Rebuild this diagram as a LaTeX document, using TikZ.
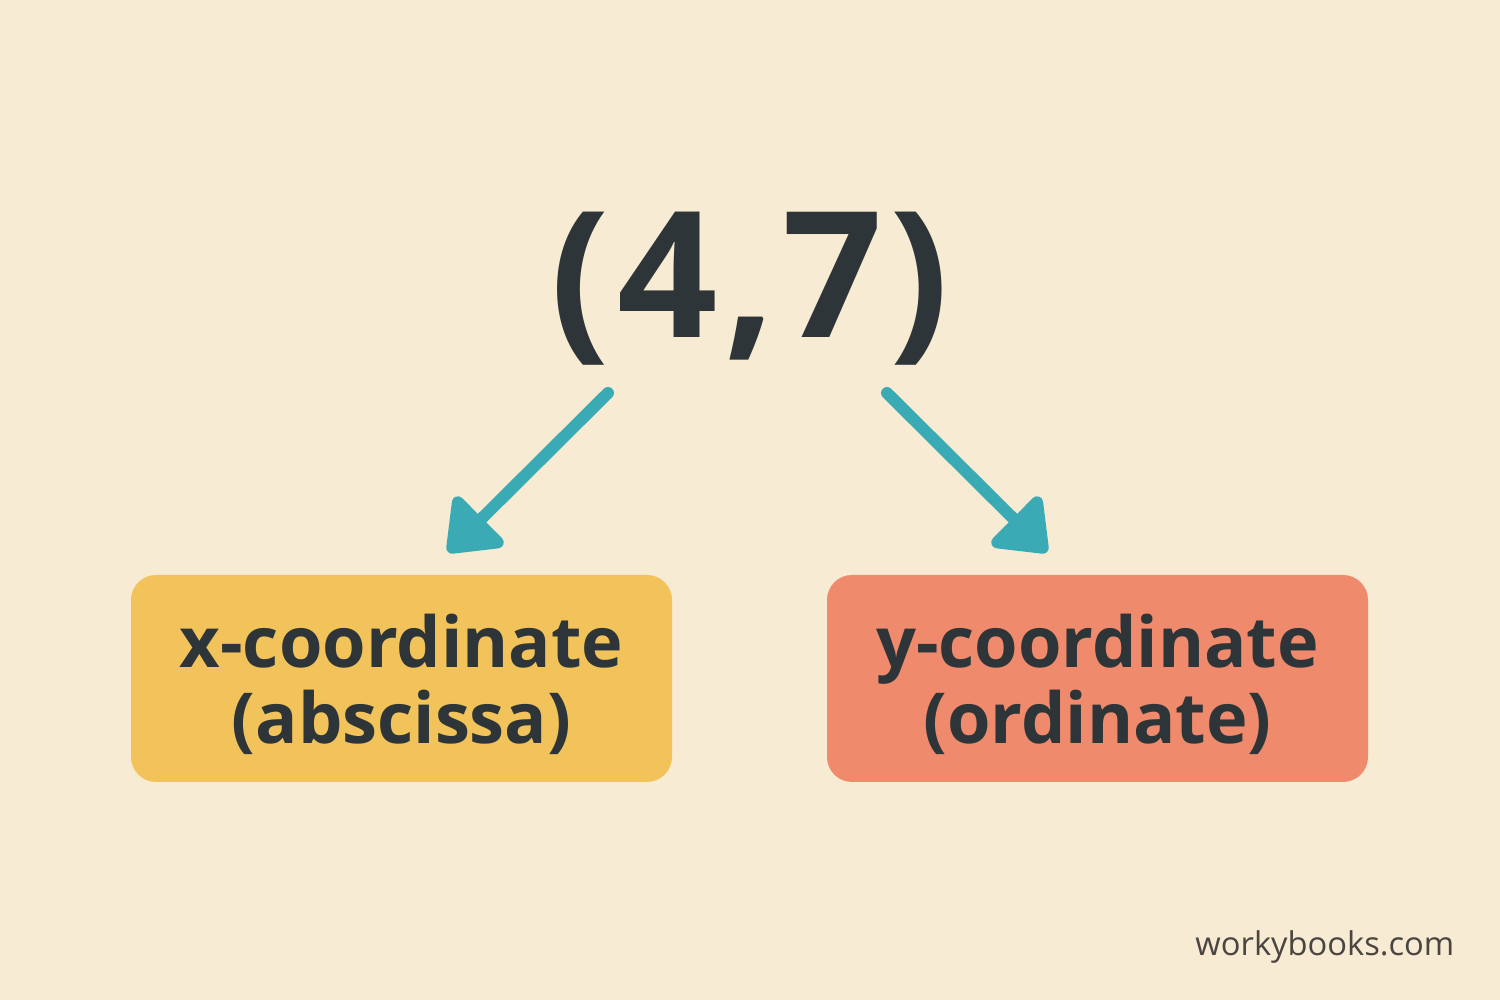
\documentclass[tikz,border=0pt]{standalone}
\usepackage{fontspec}
\setmainfont{Open Sans}
\usetikzlibrary{arrows.meta,positioning}

\definecolor{bgcream}{HTML}{F8EBD3}
\definecolor{inkdark}{HTML}{2E3539}
\definecolor{tealarrow}{HTML}{3AAAB5}
\definecolor{boxyellow}{HTML}{F2C35A}
\definecolor{boxsalmon}{HTML}{EF8A6D}
\definecolor{markgray}{HTML}{4A4540}

\tikzstyle{pair} = [font=\fontsize{50}{50}\selectfont\bfseries\addfontfeature{LetterSpace=4},text=inkdark,inner sep=0pt]
\tikzstyle{coordbox} = [rounded corners=0.25cm,minimum width=5.41cm,minimum height=2.07cm]
\tikzstyle{boxtext} = [align=center,text=inkdark,font=\fontsize{20}{21.6}\selectfont\bfseries,inner sep=0pt]
\tikzstyle{pointer} = [draw=tealarrow,line width=3.4pt,line cap=round,
  -{Triangle[length=0.52cm,width=0.78cm,round]}]
\tikzstyle{sitename} = [font=\fontsize{9.3}{9.3}\selectfont,text=markgray,anchor=base east,inner sep=0pt]

\begin{document}
\begin{tikzpicture}
     % background and size
     \fill[bgcream] (0,0) rectangle (15,10);
     \useasboundingbox (0,0) rectangle (15,10);
     % the ordered pair
     \node[pair] (pt) at (7.5,7.11) {(4,7)};
     % the two boxes and their labels
     \foreach \pos/\name/\col/\first/\second in {{(4.015,3.215)/xbox/boxyellow/x-coordinate/(abscissa)},
       {(10.975,3.215)/ybox/boxsalmon/y-coordinate/(ordinate)}}
     {
     \node[coordbox,fill=\col] (\name) at \pos {};
     \node[boxtext] (\name lbl) at ([yshift=-0.06cm]\name.center) {\first\\\second};
     }
     % arrow ends
     \coordinate (xs) at (6.08,6.07);
     \coordinate (xe) at (4.48,4.48);
     \coordinate (ys) at (8.87,6.07);
     \coordinate (ye) at (10.47,4.48);
     \foreach \source/\dest in {xs/xe,ys/ye}
     \path[pointer] (\source) -- (\dest);
     % site name
     \node[sitename] (site) at (14.55,0.44) {workybooks.com};
\end{tikzpicture}
\end{document}
